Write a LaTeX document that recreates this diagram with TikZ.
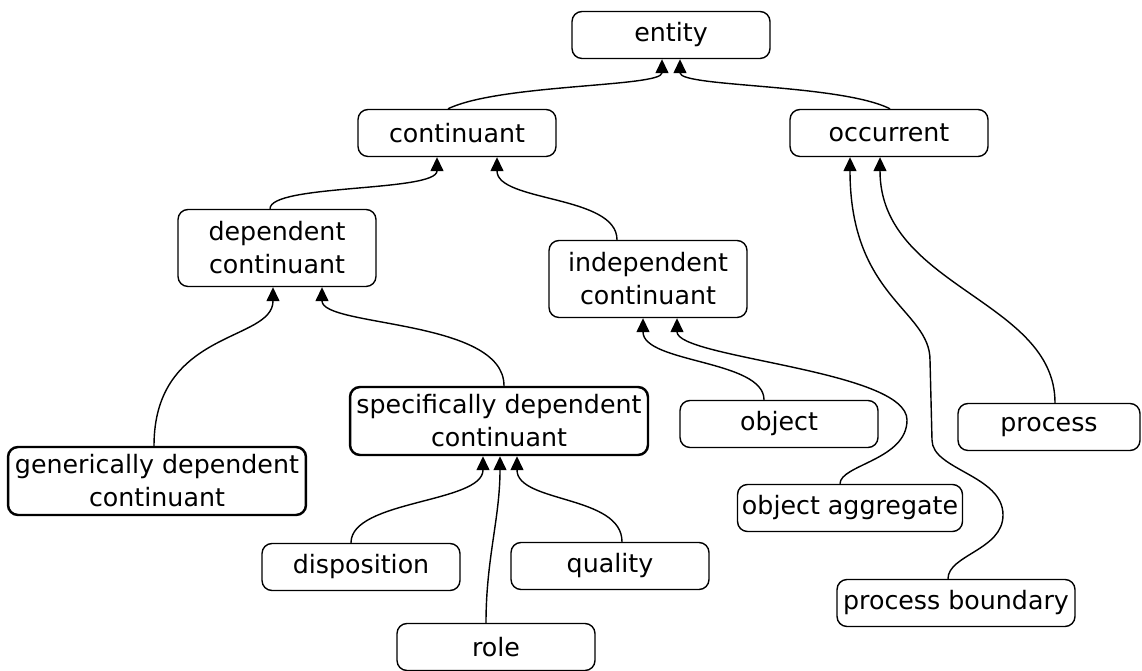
\documentclass[tikz,border=0pt]{standalone}
\usepackage{fontspec}
\setmainfont{DejaVu Sans}
\usetikzlibrary{arrows.meta, calc}

\begin{document}
\begin{tikzpicture}[
    x=0.02cm, y=-0.02cm, %% One unit per pixel, y running down
    box/.style={
        rectangle,
        rounded corners=0.2cm,
        draw=black,
        line width=0.8pt,
        align=center,
        fill=white,
        font=\fontsize{14.4pt}{18.8pt}\selectfont,
        inner sep=2pt,
        minimum width=3.96cm,
        minimum height=0.94cm
    },
    tallbox/.style={
        minimum height=1.54cm
    },
    thickbox/.style={
        line width=1.4pt,
        minimum width=5.96cm,
        minimum height=1.36cm
    },
    arrow/.style={
        -{Triangle[width=0.26cm, length=0.28cm]},
        line width=0.8pt
    }
]
\useasboundingbox (0,0) rectangle (1142,671);

%% Top Levels
\node[box] (entity) at (671,35) {entity};
\node[box] (continuant) at (457,133) {continuant};
\node[box] (occurrent) at (889,133) {occurrent};

%% Continuant Branch
\node[box, tallbox] (dep_cont) at (277,248) {dependent\\continuant};
\node[box, tallbox] (indep_cont) at (648,279) {independent\\continuant};
\node[box, thickbox] (gen_dep) at (157,481) {generically dependent\\continuant};
\node[box, thickbox] (spec_dep) at (499,421) {specifically dependent\\continuant};
\node[box] (object) at (779,424) {object};
\node[box, minimum width=4.5cm] (obj_agg) at (850,508) {object aggregate};

%% Specifically Dependent Leaves
\node[box] (disposition) at (361,567) {disposition};
\node[box] (quality) at (610,566) {quality};
\node[box] (role) at (496,647) {role};

%% Occurrent Branch
\node[box, minimum width=3.64cm] (process) at (1049,427) {process};
\node[box, minimum width=4.76cm] (proc_bound) at (956,603) {process boundary};

%% Connections to Entity
\draw[arrow] ($(continuant.north)+(-9,0)$) .. controls +(52,-25) and +(0,28) .. ($(entity.south)+(-9,0)$);
\draw[arrow] ($(occurrent.north)+(1,0)$) .. controls +(-50,-25) and +(0,28) .. ($(entity.south)+(9,0)$);

%% Connections to Continuant
\draw[arrow] ($(dep_cont.north)+(-7,0)$) .. controls +(0,-25) and +(0,35) .. ($(continuant.south)+(-20,0)$);
\draw[arrow] ($(indep_cont.north)+(-31,0)$) .. controls +(0,-45) and +(0,45) .. ($(continuant.south)+(40,0)$);

%% Connections to Dependent Continuant
\draw[arrow] ($(gen_dep.north)+(-3,0)$) .. controls +(0,-117) and +(0,55) .. ($(dep_cont.south)+(-4,0)$);
\draw[arrow] ($(spec_dep.north)+(5,0)$) .. controls +(0,-67) and +(0,40) .. ($(dep_cont.south)+(45,0)$);

%% Connections to Independent Continuant
\draw[arrow] ($(object.north)+(-15,0)$) .. controls +(0,-40) and +(0,45) .. ($(indep_cont.south)+(-5,0)$);
\draw[arrow] ($(obj_agg.north)+(-10,0)$) .. controls +(0,-19) and +(0,40) .. (907,420)
    .. controls +(0,-50) and +(0,40) .. ($(indep_cont.south)+(29,0)$);

%% Connections to Specifically Dependent Continuant
\draw[arrow] ($(disposition.north)+(-10,0)$) .. controls +(0,-43) and +(0,47) .. ($(spec_dep.south)+(-16,0)$);
\draw[arrow] ($(role.north)+(-10,0)$) .. controls +(0,-64) and +(0,62) .. ($(spec_dep.south)+(1,0)$);
\draw[arrow] ($(quality.north)+(12,0)$) .. controls +(0,-47) and +(0,47) .. ($(spec_dep.south)+(18,0)$);

%% Connections to Occurrent
\draw[arrow] ($(process.north)+(6,0)$) .. controls +(0,-103) and +(0,130) .. ($(occurrent.south)+(-9,0)$);
\draw[arrow] ($(proc_bound.north)+(-8,0)$) .. controls +(0,-24) and +(0,35) .. (1003,515)
    .. controls +(0,-40) and +(0,30) .. (932,440) -- (930,360)
    .. controls +(0,-50) and +(0,140) .. ($(occurrent.south)+(-39,0)$);

\end{tikzpicture}
\end{document}
